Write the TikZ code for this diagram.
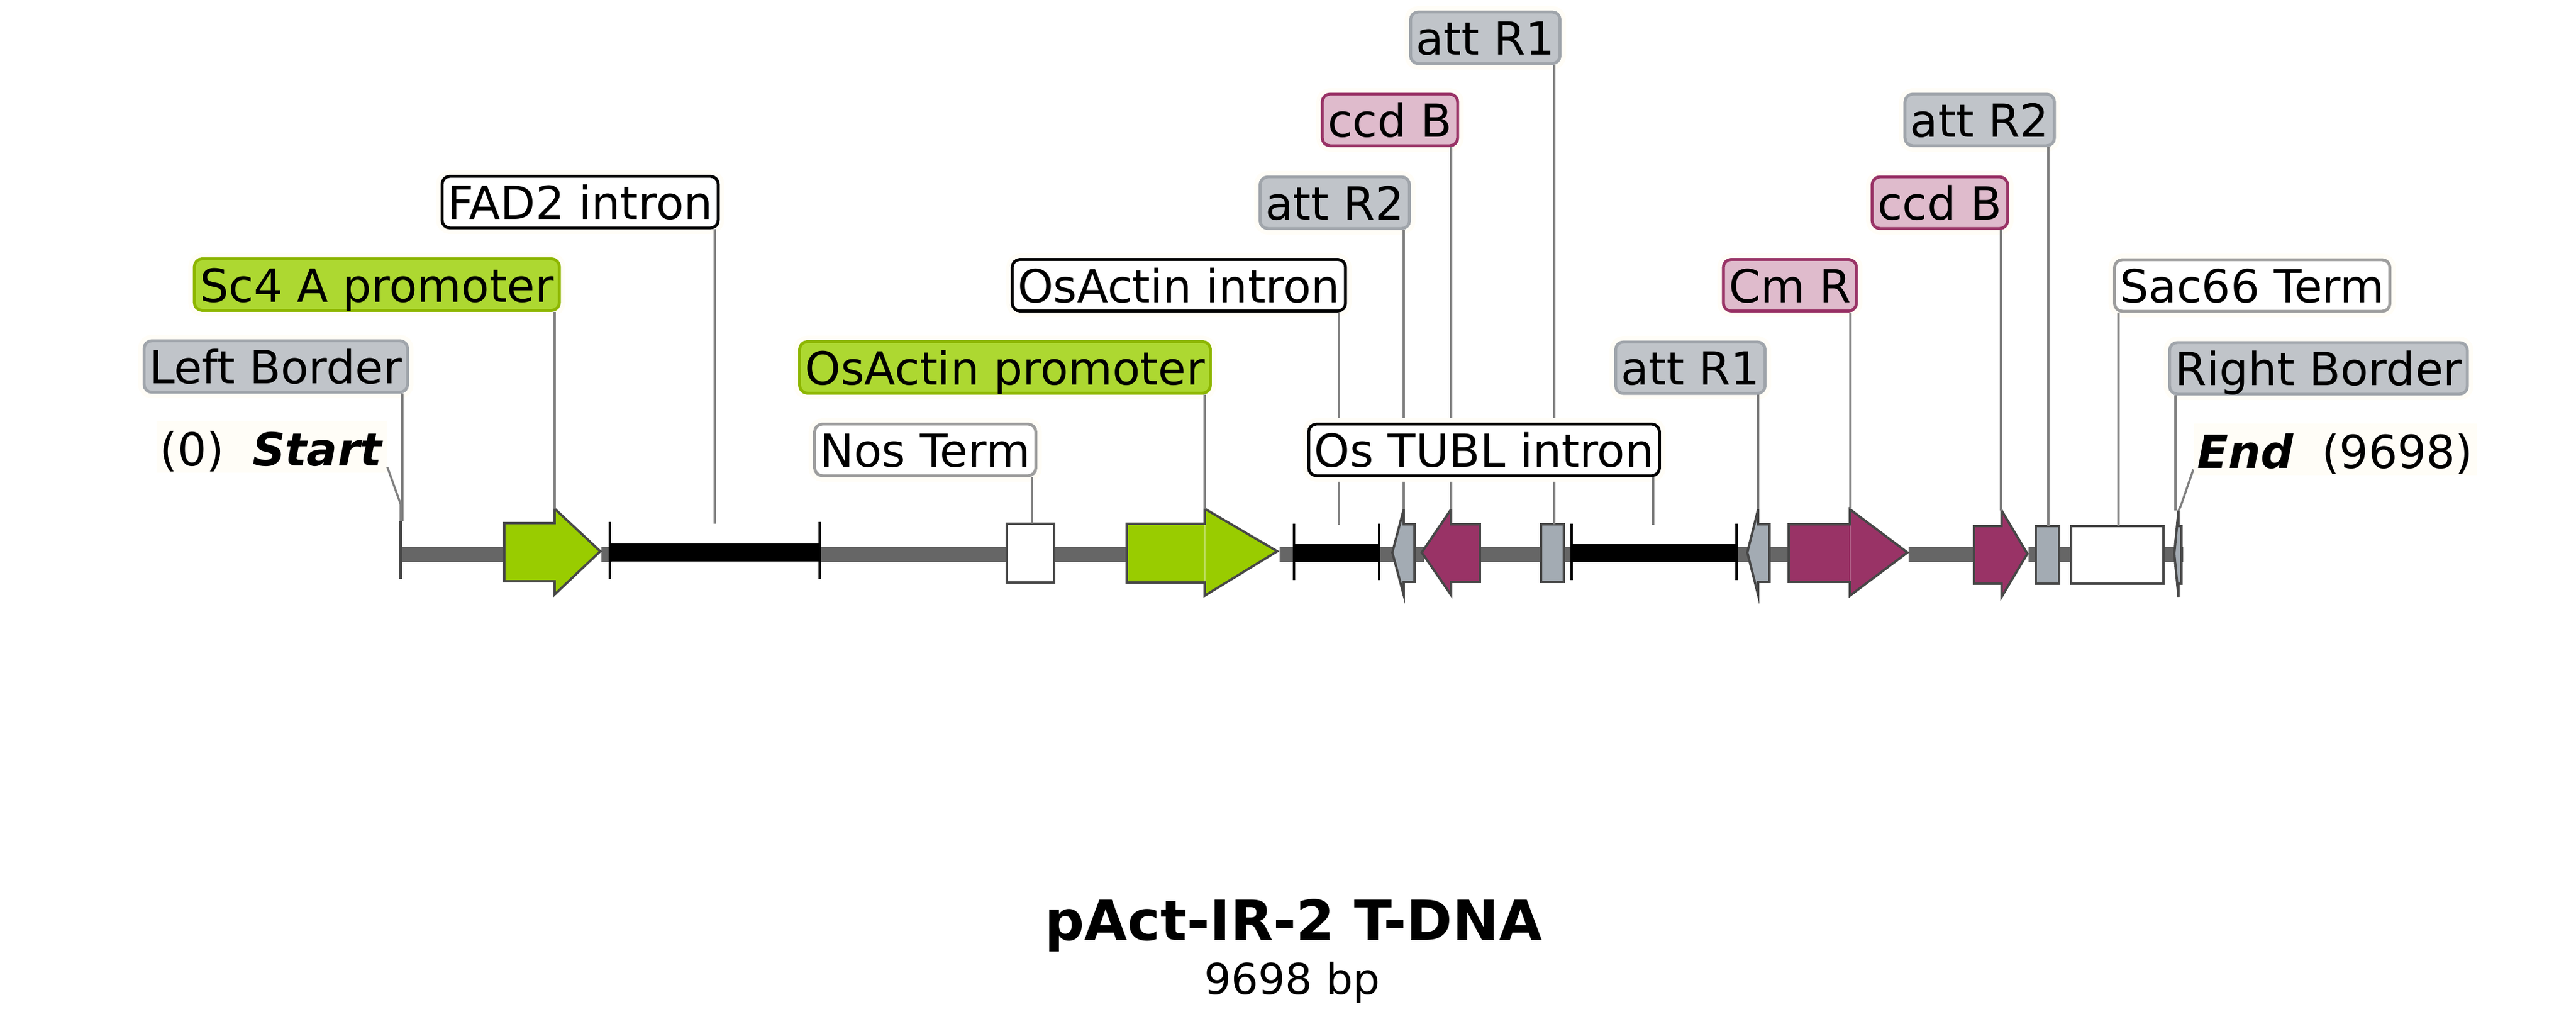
\documentclass[tikz,border=0pt]{standalone}
\usepackage{fontspec}
\setmainfont{DejaVu Sans}
\definecolor{halo}{HTML}{FFFDF7}
\definecolor{leaf}{HTML}{99CC00}
\definecolor{leaflbl}{HTML}{ADD831}
\definecolor{leafedge}{HTML}{8DB600}
\definecolor{plum}{HTML}{993366}
\definecolor{plumlbl}{HTML}{DFBBCC}
\definecolor{slate}{HTML}{A3ABB3}
\definecolor{slatelbl}{HTML}{C0C4C9}
\definecolor{slateedge}{HTML}{A0A5AB}
\tikzset{
  tag/.style={rectangle,rounded corners=.13cm,line width=1.4pt,inner xsep=.09cm,inner ysep=0pt,
    text height=.72cm,text depth=.14cm,font=\fontsize{21.6}{25}\selectfont,
    preaction={draw=halo,line width=.2cm}},
  slatetag/.style={tag,draw=slateedge,fill=slatelbl},
  leaftag/.style={tag,draw=leafedge,fill=leaflbl},
  plumtag/.style={tag,draw=plum,fill=plumlbl},
  introntag/.style={tag,draw=black,fill=white},
  termtag/.style={tag,draw=black!38,fill=white},
  endtag/.style={rectangle,fill=halo,inner xsep=.06cm,inner ysep=0pt,text height=.75cm,text depth=.11cm,font=\fontsize{21.6}{25}\selectfont},
  leader/.style={draw=black!50,line width=1pt},
  feat/.style={draw=black!72,line width=1.1pt,line join=miter},
  featbox/.style={rectangle,feat,inner sep=0pt},
  seam/.style={draw=white,line width=.3pt,opacity=.6},
  backbone/.style={draw=black!60,line width=.25cm},
  intronbar/.style={draw=black,line width=.30cm},
  intronend/.style={draw=black,line width=.9pt}
}
\begin{document}
\begin{tikzpicture}
  \useasboundingbox (0,0) rectangle (42.96,17.07);
  % backbone pieces
  \draw[backbone] (6.68,7.82) -- (8.45,7.82) (10.03,7.82) -- (10.20,7.82) (13.67,7.82) -- (16.82,7.82)
    (17.55,7.82) -- (18.82,7.82) (21.34,7.82) -- (21.60,7.82) (23.00,7.82) -- (23.30,7.82)
    (23.55,7.82) -- (23.75,7.82) (24.65,7.82) -- (25.72,7.82) (26.06,7.82) -- (26.25,7.82)
    (28.93,7.82) -- (29.20,7.82) (29.48,7.82) -- (29.86,7.82) (31.83,7.82) -- (32.95,7.82)
    (33.83,7.82) -- (33.98,7.82) (34.32,7.82) -- (34.56,7.82) (36.06,7.82) -- (36.41,7.82);
  % introns
  \draw[intronbar] (10.17,7.86) -- (13.67,7.86);
  \draw[intronend] (10.17,8.37) -- (10.17,7.42);
  \draw[intronend] (13.67,8.37) -- (13.67,7.42);
  \draw[intronbar] (21.58,7.85) -- (23.00,7.85);
  \draw[intronend] (21.58,8.34) -- (21.58,7.40);
  \draw[intronend] (23.00,8.34) -- (23.00,7.40);
  \draw[intronbar] (26.21,7.85) -- (28.96,7.85);
  \draw[intronend] (26.21,8.34) -- (26.21,7.40);
  \draw[intronend] (28.96,8.34) -- (28.96,7.40);
  \draw[black!72,line width=1.8pt] (6.68,8.38) -- (6.68,7.42);
  % features
  \draw[feat,fill=leaf] (8.41,8.35) -- (9.25,8.35) -- (9.25,8.59) -- (10.01,7.88) -- (9.25,7.16) -- (9.25,7.38) -- (8.41,7.38) -- cycle;
  \node[featbox,fill=white,minimum width=.79cm,minimum height=.98cm] (nosbox) at (17.185,7.85) {};
  \draw[feat,fill=leaf] (18.79,8.34) -- (20.09,8.34) -- (20.09,8.59) -- (21.30,7.88) -- (20.09,7.14) -- (20.09,7.36) -- (18.79,7.36) -- cycle;
  \draw[seam] (20.09,8.32) -- (20.09,7.38);
  \draw[feat,fill=slate] (23.59,8.33) -- (23.41,8.33) -- (23.41,8.58) -- (23.22,7.86) -- (23.41,7.15) -- (23.41,7.37) -- (23.59,7.37) -- cycle;
  \draw[feat,fill=plum] (24.68,8.33) -- (24.20,8.33) -- (24.20,8.58) -- (23.71,7.86) -- (24.20,7.15) -- (24.20,7.37) -- (24.68,7.37) -- cycle;
  \node[featbox,fill=slate,minimum width=.38cm,minimum height=.96cm] (r1box) at (25.89,7.85) {};
  \draw[feat,fill=slate] (29.51,8.33) -- (29.32,8.33) -- (29.32,8.58) -- (29.14,7.86) -- (29.32,7.15) -- (29.32,7.37) -- (29.51,7.37) -- cycle;
  \draw[feat,fill=plum] (29.83,8.33) -- (30.85,8.33) -- (30.85,8.58) -- (31.81,7.86) -- (30.85,7.14) -- (30.85,7.37) -- (29.83,7.37) -- cycle;
  \draw[seam] (30.85,8.31) -- (30.85,7.39);
  \draw[feat,fill=plum] (32.92,8.30) -- (33.38,8.30) -- (33.38,8.56) -- (33.81,7.84) -- (33.38,7.12) -- (33.38,7.34) -- (32.92,7.34) -- cycle;
  \node[featbox,fill=slate,minimum width=.39cm,minimum height=.96cm] (r2box) at (34.145,7.82) {};
  \node[featbox,fill=white,minimum width=1.54cm,minimum height=.96cm] (sacbox) at (35.31,7.82) {};
  \draw[feat,fill=slate] (36.26,7.84) -- (36.33,8.56) -- (36.33,8.30) -- (36.38,8.30) -- (36.38,7.34) -- (36.33,7.34) -- (36.33,7.12) -- cycle;
  % where the leaders stop
  \coordinate (lbtop) at (6.71,8.38);
  \coordinate (sc4top) at (9.25,8.59);
  \coordinate (fadtop) at (11.92,8.34);
  \coordinate (nostop) at (17.21,8.34);
  \coordinate (osptop) at (20.09,8.59);
  \coordinate (ositop) at (22.33,8.32);
  \coordinate (r2top) at (23.41,8.58);
  \coordinate (cbtop) at (24.20,8.58);
  \coordinate (r1top) at (25.92,8.33);
  \coordinate (tubtop) at (27.57,8.32);
  \coordinate (r1rtop) at (29.32,8.58);
  \coordinate (cmtop) at (30.86,8.58);
  \coordinate (cbrtop) at (33.37,8.56);
  \coordinate (r2rtop) at (34.16,8.30);
  \coordinate (sactop) at (35.33,8.30);
  \coordinate (rbtop) at (36.28,8.56);
  \coordinate (startbend) at (6.68,8.67);
  \coordinate (startend) at (6.68,8.38);
  \coordinate (endbend) at (36.37,8.64);
  \coordinate (endend) at (36.33,8.56);
  % labels
  \node[slatetag] (lblb) at (4.60,10.96) {Left Border};
  \node[leaftag] (lblsc4) at (6.285,12.325) {Sc4 A promoter};
  \node[introntag] (lblfad) at (9.675,13.70) {FAD2 intron};
  \node[leaftag] (lblosp) at (16.76,10.945) {OsActin promoter};
  \node[termtag] (lblnos) at (15.43,9.57) {Nos Term};
  \node[introntag] (lblosi) at (19.66,12.315) {OsActin intron};
  \node[slatetag] (lblr1) at (24.77,16.44) {att R1};
  \node[plumtag] (lblcb) at (23.18,15.07) {ccd B};
  \node[slatetag] (lblr2) at (22.26,13.69) {att R2};
  \node[slatetag] (lblr1r) at (28.19,10.94) {att R1};
  \node[plumtag] (lblcm) at (29.85,12.315) {Cm R};
  \node[slatetag] (lblr2r) at (33.015,15.07) {att R2};
  \node[plumtag] (lblcbr) at (32.35,13.69) {ccd B};
  \node[termtag] (lblsac) at (37.56,12.31) {Sac66 Term};
  \node[slatetag] (lblrb) at (38.665,10.93) {Right Border};
  \node[endtag] (lblstart) at (4.53,9.62) {(0)\hspace{.24cm}\hspace{.3em}\textbf{\textit{Start}}};
  \node[endtag] (lblend) at (38.945,9.58) {\textbf{\textit{End}}\hspace{.24cm}\hspace{.3em}(9698)};
  % leaders
  \draw[leader] (lblb.south -| lbtop) -- (lbtop);
  \draw[leader] (lblsc4.south -| sc4top) -- (sc4top);
  \draw[leader] (lblfad.south -| fadtop) -- (fadtop);
  \draw[leader] (lblosp.south -| osptop) -- (osptop);
  \draw[leader] (lblnos.south -| nostop) -- (nostop);
  \draw[leader] (lblosi.south -| ositop) -- (ositop);
  \draw[leader] (lblr2.south -| r2top) -- (r2top);
  \draw[leader] (lblcb.south -| cbtop) -- (cbtop);
  \draw[leader] (lblr1.south -| r1top) -- (r1top);
  \draw[leader] (lblr1r.south -| r1rtop) -- (r1rtop);
  \draw[leader] (lblcm.south -| cmtop) -- (cmtop);
  \draw[leader] (lblcbr.south -| cbrtop) -- (cbrtop);
  \draw[leader] (lblr2r.south -| r2rtop) -- (r2rtop);
  \draw[leader] (lblsac.south -| sactop) -- (sactop);
  \draw[leader] (lblrb.south -| rbtop) -- (rbtop);
  \draw[leader] ([yshift=.1cm]lblstart.south east) -- (startbend) -- (startend);
  \draw[leader] ([yshift=.1cm]lblend.south west) -- (endbend) -- (endend);
  % this one sits over the leaders behind it
  \node[introntag] (lbltub) at (24.75,9.57) {Os TUBL intron};
  \draw[leader] (lbltub.south -| tubtop) -- (tubtop);
  % title
  \node[font=\fontsize{26.3}{32}\selectfont\bfseries] (title) at (21.57,1.64) {pAct-IR-2 T-DNA};
  \node[font=\fontsize{20.2}{24}\selectfont] (size) at (21.55,0.69) {9698 bp};
\end{tikzpicture}
\end{document}
